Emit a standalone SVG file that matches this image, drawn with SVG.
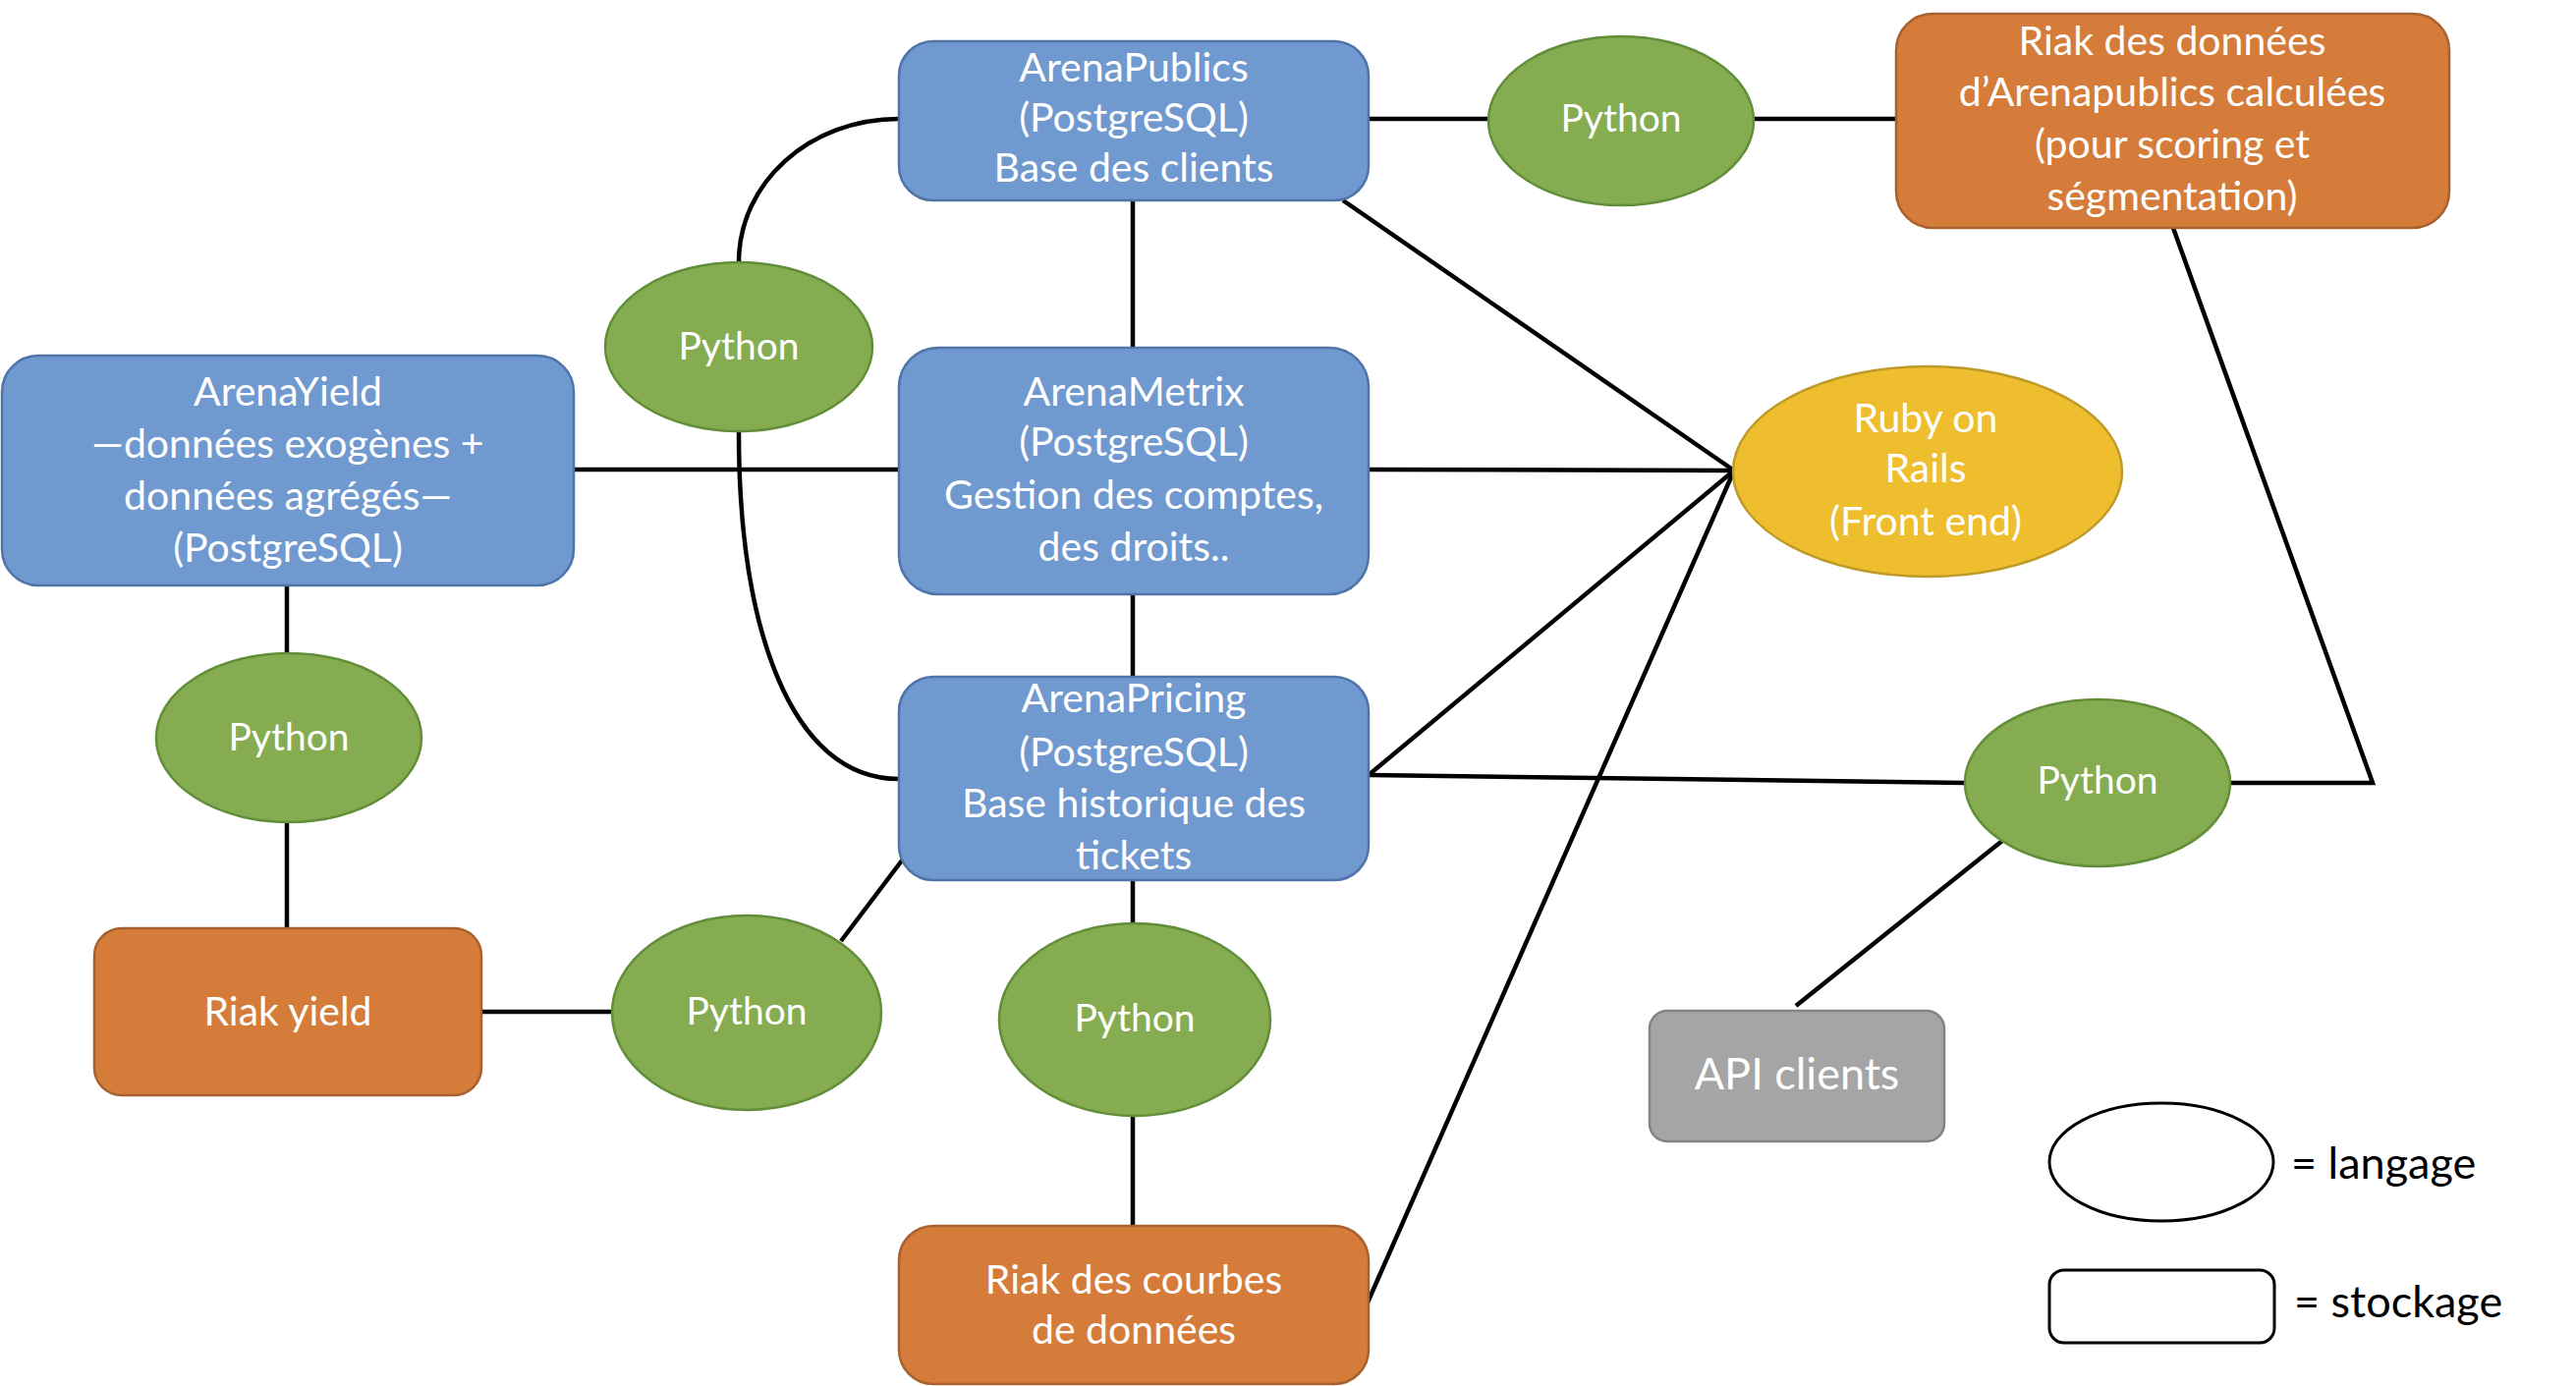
<svg xmlns="http://www.w3.org/2000/svg" width="2622" height="1411" viewBox="0 0 2622 1411">
<style>
.t{font-family:Lato,"Open Sans","Liberation Sans",sans-serif;font-size:41px;fill:#fff;text-anchor:middle}
.p{font-size:39px}
.lg{font-family:Lato,"Open Sans","Liberation Sans",sans-serif;font-size:45px;fill:#000}
.blue{fill:#7099D0;stroke:#4F74A8;stroke-width:2.5}
.green{fill:#85AC51;stroke:#628E39;stroke-width:2.5}
.orange{fill:#D57C3A;stroke:#A8612E;stroke-width:2.5}
.yellow{fill:#EEBE2E;stroke:#BF9A2A;stroke-width:2.5}
.gray{fill:#A5A5A5;stroke:#838383;stroke-width:2.5}
.leg{fill:#fff;stroke:#000;stroke-width:3}
.c{fill:none;stroke:#000;stroke-width:4.5}
</style>
<rect width="2622" height="1411" fill="#fff"/>
<g id="connectors">
<line class="c" x1="584" y1="478" x2="915" y2="478"/>
<path class="c" d="M752,267 C752,186 824,121 915,121"/>
<path class="c" d="M752,440 C752,640 805,793 915,793"/>
<line class="c" x1="292" y1="596" x2="292" y2="665"/>
<line class="c" x1="292" y1="837" x2="292" y2="945"/>
<line class="c" x1="490" y1="1030" x2="623" y2="1030"/>
<line class="c" x1="856" y1="958" x2="918" y2="876"/>
<line class="c" x1="1153" y1="204" x2="1153" y2="354"/>
<line class="c" x1="1153" y1="605" x2="1153" y2="689"/>
<line class="c" x1="1153" y1="896" x2="1153" y2="940"/>
<line class="c" x1="1153" y1="1137" x2="1153" y2="1248"/>
<line class="c" x1="1393" y1="121" x2="1515" y2="121"/>
<line class="c" x1="1785" y1="121" x2="1930" y2="121"/>
<line class="c" x1="1367" y1="204" x2="1765" y2="479"/>
<line class="c" x1="1393" y1="478" x2="1765" y2="479"/>
<line class="c" x1="1393" y1="789" x2="1765" y2="479"/>
<line class="c" x1="1392" y1="1326" x2="1765" y2="479"/>
<line class="c" x1="1393" y1="789" x2="2000" y2="797"/>
<polyline class="c" points="2270,797 2415,797 2212,232"/>
<line class="c" x1="2038" y1="856" x2="1828" y2="1024"/>
</g>
<g id="arenayield">
<rect class="blue" x="2" y="362" width="582" height="234" rx="37"/>
<text class="t" x="293" y="413">ArenaYield</text>
<text class="t" x="293" y="466">—données  exogènes +</text>
<text class="t" x="293" y="519">données  agrégés—</text>
<text class="t" x="293" y="572">(PostgreSQL)</text>
</g>
<g id="arenapublics">
<rect class="blue" x="915" y="42" width="478" height="162" rx="35"/>
<text class="t" x="1154" y="83">ArenaPublics</text>
<text class="t" x="1154" y="134">(PostgreSQL)</text>
<text class="t" x="1154" y="185">Base des clients</text>
</g>
<g id="arenametrix">
<rect class="blue" x="915" y="354" width="478" height="251" rx="40"/>
<text class="t" x="1154" y="413">ArenaMetrix</text>
<text class="t" x="1154" y="464">(PostgreSQL)</text>
<text class="t" x="1154" y="518">Gestion des comptes,</text>
<text class="t" x="1154" y="571">des droits..</text>
</g>
<g id="arenapricing">
<rect class="blue" x="915" y="689" width="478" height="207" rx="35"/>
<text class="t" x="1154" y="725">ArenaPricing</text>
<text class="t" x="1154" y="780">(PostgreSQL)</text>
<text class="t" x="1154" y="832">Base historique des</text>
<text class="t" x="1154" y="885">tickets</text>
</g>
<g id="riak-courbes">
<rect class="orange" x="915" y="1248" width="478" height="161" rx="35"/>
<text class="t" x="1154" y="1317">Riak des courbes</text>
<text class="t" x="1154" y="1368">de données</text>
</g>
<g id="riak-donnees">
<rect class="orange" x="1930" y="14" width="563" height="218" rx="37"/>
<text class="t" x="2211" y="56">Riak des données</text>
<text class="t" x="2211" y="108">d’Arenapublics calculées</text>
<text class="t" x="2211" y="161">(pour scoring et</text>
<text class="t" x="2211" y="214">ségmentation)</text>
</g>
<g id="riak-yield">
<rect class="orange" x="96" y="945" width="394" height="170" rx="28"/>
<text class="t" x="293" y="1044">Riak yield</text>
</g>
<g id="api-clients">
<rect class="gray" x="1679" y="1029" width="300" height="133" rx="18"/>
<text class="t" x="1829" y="1109" style="font-size:45px">API clients</text>
</g>
<g id="ruby">
<ellipse class="yellow" cx="1962" cy="480" rx="198" ry="107"/>
<text class="t" x="1960" y="440">Ruby on</text>
<text class="t" x="1960" y="491">Rails</text>
<text class="t" x="1960" y="545">(Front end)</text>
</g>
<g id="python-1">
<ellipse class="green" cx="752" cy="353" rx="136" ry="86"/>
<text class="t p" x="752" y="366">Python</text>
</g>
<g id="python-2">
<ellipse class="green" cx="1650" cy="123" rx="135" ry="86"/>
<text class="t p" x="1650" y="134">Python</text>
</g>
<g id="python-3">
<ellipse class="green" cx="294" cy="751" rx="135" ry="86"/>
<text class="t p" x="294" y="764">Python</text>
</g>
<g id="python-4">
<ellipse class="green" cx="760" cy="1031" rx="137" ry="99"/>
<text class="t p" x="760" y="1043">Python</text>
</g>
<g id="python-5">
<ellipse class="green" cx="1155" cy="1038" rx="138" ry="98"/>
<text class="t p" x="1155" y="1050">Python</text>
</g>
<g id="python-6">
<ellipse class="green" cx="2135" cy="797" rx="135" ry="85"/>
<text class="t p" x="2135" y="808">Python</text>
</g>
<g id="legend">
<ellipse class="leg" cx="2200" cy="1183" rx="114" ry="60"/>
<text class="lg" x="2332" y="1200">= langage</text>
<rect class="leg" x="2086" y="1293" width="229" height="74" rx="15"/>
<text class="lg" x="2335" y="1341">= stockage</text>
</g>
</svg>
